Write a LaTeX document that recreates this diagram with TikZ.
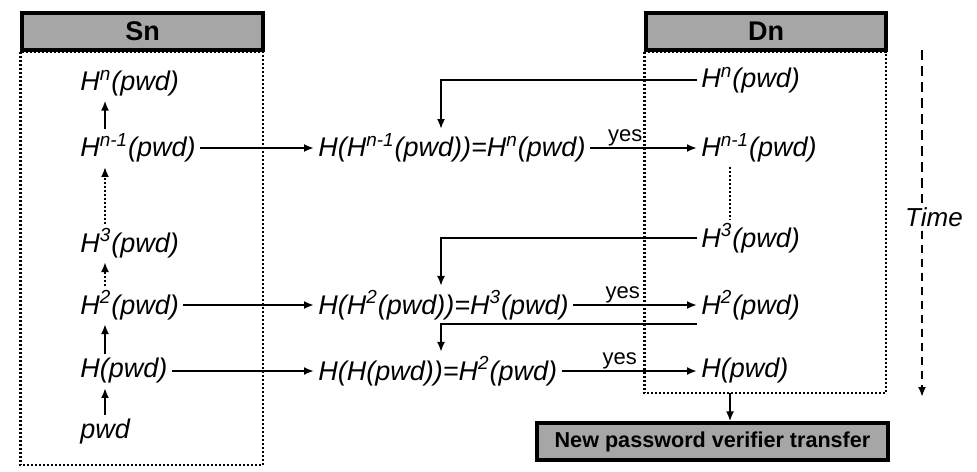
\documentclass[tikz,border=0pt]{standalone}
\usepackage{fontspec}
\setmainfont{Liberation Sans}
\setsansfont{Liberation Sans}
\usetikzlibrary{arrows.meta,calc}
\begin{document}
\begin{tikzpicture}[x=0.5pt,y=-0.5pt,
  lab/.style={font=\fontsize{13.5}{15}\selectfont\itshape, inner sep=2pt, anchor=west},
  hdr/.style={draw=black, line width=1.6pt, fill=black!35, font=\fontsize{10.8}{12}\selectfont\bfseries, minimum height=18.5pt, inner sep=0pt},
  conn/.style={line width=1.3pt, -{Latex[length=5pt,width=4pt]}},
  dotconn/.style={line width=1.3pt, dash pattern=on 1pt off 1pt, -{Latex[length=5pt,width=4pt]}},
  dotbox/.style={line width=1.1pt, dash pattern=on 1pt off 1pt},
  yeslab/.style={font=\fontsize{11}{12}\selectfont, inner sep=0.5pt, above}]
\useasboundingbox (0,0) rectangle (977,471);

% headers
\node[hdr, minimum width=120.5pt, font=\fontsize{13.5}{15}\selectfont\bfseries] (sn) at (142.5,31.5) {Sn};
\node[hdr, minimum width=120pt, font=\fontsize{13.5}{15}\selectfont\bfseries] (dn) at (766,31.5) {Dn};
\node[hdr, minimum width=175.5pt] (nv) at (712.5,441.5) {New password verifier transfer};

% dotted boxes
\coordinate (snb) at (263,465);
\coordinate (dnb) at (886,393);
\draw[dotbox] (sn.south west) rectangle (snb);
\draw[dotbox] (dn.south west) rectangle (dnb);

% left column
\node[lab] (lhn) at (76,83) {H\textsuperscript{n}(pwd)};
\node[lab] (lhn1) at (76,148) {H\textsuperscript{n-1}(pwd)};
\node[lab] (lh3) at (76,243) {H\textsuperscript{3}(pwd)};
\node[lab] (lh2) at (76,305) {H\textsuperscript{2}(pwd)};
\node[lab] (lh1) at (76,371) {H(pwd)};
\node[lab] (lp) at (76,432) {pwd};

\draw[conn] ([xshift=14.5pt]lp.north west) -- ([xshift=14.5pt]lh1.south west);
\draw[conn] ([xshift=14.5pt]lh1.north west) -- ([xshift=14.5pt]lh2.south west);
\draw[dotconn] ([xshift=14.5pt]lh2.north west) -- ([xshift=14.5pt]lh3.south west);
\draw[dotconn] ([xshift=14.5pt]lh3.north west) -- ([xshift=14.5pt]lhn1.south west);
\draw[conn] ([xshift=14.5pt]lhn1.north west) -- ([xshift=14.5pt]lhn.south west);

% middle column
\node[lab] (m1) at (314,148) {H(H\textsuperscript{n-1}(pwd))=H\textsuperscript{n}(pwd)};
\node[lab] (m2) at (314,305) {H(H\textsuperscript{2}(pwd))=H\textsuperscript{3}(pwd)};
\node[lab] (m3) at (314,371) {H(H(pwd))=H\textsuperscript{2}(pwd)};

% right column
\node[lab] (rhn) at (697,80) {H\textsuperscript{n}(pwd)};
\node[lab] (rhn1) at (697,148) {H\textsuperscript{n-1}(pwd)};
\node[lab] (rh3) at (697,238) {H\textsuperscript{3}(pwd)};
\node[lab] (rh2) at (697,305) {H\textsuperscript{2}(pwd)};
\node[lab] (rh1) at (697,371) {H(pwd)};

% left to middle
\draw[conn] (lhn1.east) -- (m1.west);
\draw[conn] (lh2.east) -- (m2.west);
\draw[conn] (lh1.east) -- (m3.west);

% middle to right
\draw[conn] (m1.east) -- node[yeslab, pos=0.33] {yes} (rhn1.west);
\draw[conn] (m2.east) -- node[yeslab, pos=0.4] {yes} (rh2.west);
\draw[conn] (m3.east) -- node[yeslab, pos=0.43] {yes} (rh1.west);

% feedback
\draw[conn] (rhn.west) -| ([xshift=63.5pt]m1.north west);
\draw[conn] (rh3.west) -| ([xshift=63.5pt]m2.north west);
\coordinate (c3) at (697,324);
\draw[conn] (c3) -| ([xshift=63.5pt]m3.north west);

% dotted inside Dn
\draw[dotbox] ([xshift=16.5pt]rhn1.south west) -- ([xshift=16.5pt]rh3.north west);

% Dn to new verifier
\coordinate (dna) at (730,393);
\draw[conn] (dna) -- (dna |- nv.north);

% time
\node[font=\fontsize{13}{15}\selectfont\itshape, inner sep=2pt] (time) at (934,217) {Time};
\coordinate (tt) at (922,50);
\coordinate (tb) at (922,397);
\draw[line width=1.4pt, dash pattern=on 5pt off 3pt] (tt) -- (tt |- time.north);
\draw[line width=1.4pt, dash pattern=on 4pt off 3pt, -{Latex[length=5pt,width=4pt]}] (tt |- time.south) -- (tb);
\end{tikzpicture}
\end{document}
